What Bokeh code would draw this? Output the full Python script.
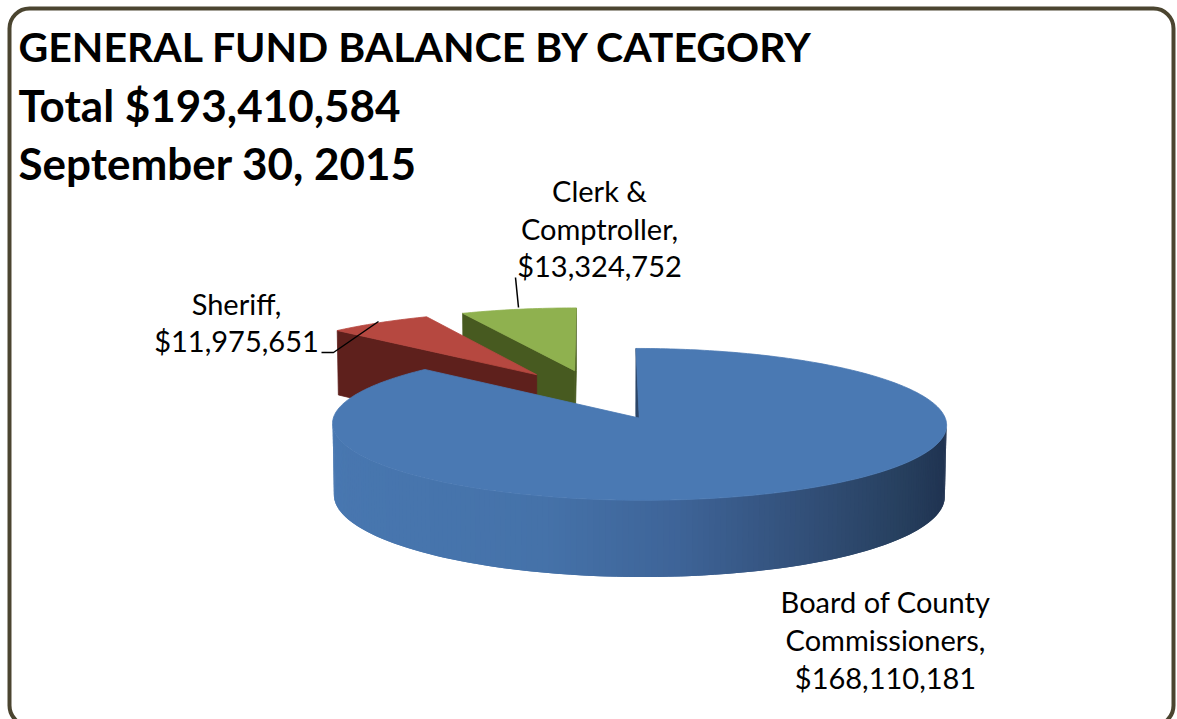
import numpy as np
from bokeh.plotting import figure
from bokeh.models import Range1d, BoxAnnotation
from bokeh.core.properties import value
from bokeh.embed import file_html
from bokeh.resources import INLINE

# ---------------- data ----------------
categories = ["Board of County Commissioners", "Sheriff", "Clerk & Comptroller"]
amounts = [168110181, 11975651, 13324752]
label_lines = [["Board of County", "Commissioners,", "$168,110,181"],
               ["Sheriff,", "$11,975,651"],
               ["Clerk &", "Comptroller,", "$13,324,752"]]
title_lines = ["GENERAL FUND BALANCE BY CATEGORY", "Total  $193,410,584", "September 30, 2015"]
top_colors = ["#4a79b3", "#b64840", "#8fb14f"]
face_colors = ["#2b4568", "#5e201c", "#475a20"]

# ---------------- figure (coordinates = page pixels, y downward) ----------------
W, H = 1177, 719
p = figure(width=W, height=H, output_backend="svg", toolbar_location=None,
           x_range=Range1d(0, W), y_range=Range1d(H, 0), min_border=0,
           x_axis_location=None, y_axis_location=None)
p.grid.visible = False
p.outline_line_color = None
p.background_fill_color = "white"

# ---------------- 3D exploded pie geometry ----------------
cx, cy = 596.0, 394.0     # projected centre
R = 298.0                 # radius in px
sa = 0.24                 # sin of elevation
ca = np.sqrt(1 - sa ** 2)
T = 0.24                  # thickness (radius units)
D = 12.0                  # camera distance (radius units)
E = 0.35                  # explosion

def proj(u, w, h):
    Yv = w * sa + h * ca
    Zc = w * ca - h * sa
    s = D / (D + Zc)
    return cx + R * u * s, cy - R * Yv * s

cam = np.array([0.0, -D * ca, D * sa])

def visible(normal, point):
    return np.dot(normal, cam - point) > 0

def hexmix(c1, c2, t):
    a = np.array([int(c1[i:i + 2], 16) for i in (1, 3, 5)], float)
    b = np.array([int(c2[i:i + 2], 16) for i in (1, 3, 5)], float)
    m = a + (b - a) * t
    return "#%02x%02x%02x" % tuple(int(round(v)) for v in m)

def side_color(i, u):
    if i == 0:
        stops = [(-1.0, "#4877b0"), (-0.3, "#4572a9"), (0.1, "#3e6498"),
                 (0.5, "#324f78"), (0.8, "#27405f"), (1.0, "#1f3250")]
    elif i == 1:
        stops = [(-1.0, "#7a2a25"), (1.0, "#4a1815")]
    else:
        stops = [(-1.0, "#5a7029"), (1.0, "#3a4a18")]
    for (u0, c0), (u1, c1) in zip(stops[:-1], stops[1:]):
        if u <= u1:
            return hexmix(c0, c1, (u - u0) / (u1 - u0))
    return stops[-1][1]

total = sum(amounts)
fracs = [a / total for a in amounts]
starts = np.concatenate([[0.0], np.cumsum(fracs)[:-1]]) * 2 * np.pi
ends = np.cumsum(fracs) * 2 * np.pi

slices = []
for i in range(len(amounts)):
    a0, a1 = starts[i], ends[i]
    m = (a0 + a1) / 2
    ex, ew = E * np.sin(m), E * np.cos(m)
    slices.append((ew, i, a0, a1, ex))
slices.sort(key=lambda s: -s[0])   # farthest first

xs, ys, cols, lws = [], [], [], []

def add(poly3, col, lw=0.8):
    pts = [proj(*pt) for pt in poly3]
    xs.append([q[0] for q in pts])
    ys.append([q[1] for q in pts])
    cols.append(col)
    lws.append(lw)

def rim(ex, ew, f, h):
    return (ex + np.sin(f), ew + np.cos(f), h)

for ew, i, a0, a1, ex in slices:
    apex_t = (ex, ew, 0.0)
    apex_b = (ex, ew, -T)
    n = max(8, int((a1 - a0) / (2 * np.pi) * 360))
    phis = np.linspace(a0, a1, n + 1)
    # outer side strips (overlapping, no outline to avoid seams)
    vis = []
    for k in range(n):
        fm = (phis[k] + phis[k + 1]) / 2
        normal = np.array([np.sin(fm), np.cos(fm), 0.0])
        pt = np.array([ex + np.sin(fm), ew + np.cos(fm), -T / 2])
        vis.append(visible(normal, pt))
    for k in range(n):
        if vis[k]:
            f0 = phis[k]
            k1 = min(k + 2, n) if (k + 1 < n and vis[k + 1]) else k + 1
            f1 = phis[k1]
            fm = (phis[k] + phis[k + 1]) / 2
            quad = [rim(ex, ew, f0, 0.0), rim(ex, ew, f1, 0.0),
                    rim(ex, ew, f1, -T), rim(ex, ew, f0, -T)]
            add(quad, side_color(i, np.sin(fm)), 0)
    # radial faces
    for ang, sign in ((a0, -1), (a1, 1)):
        normal = sign * np.array([np.cos(ang), -np.sin(ang), 0.0])
        pt = np.array([ex + 0.5 * np.sin(ang), ew + 0.5 * np.cos(ang), -T / 2])
        if visible(normal, pt):
            quad = [apex_t, rim(ex, ew, ang, 0.0), rim(ex, ew, ang, -T), apex_b]
            add(quad, face_colors[i])
    # top face
    top = [apex_t] + [rim(ex, ew, f, 0.0) for f in phis]
    add(top, top_colors[i])

p.patches(xs, ys, fill_color=cols, line_color=cols, line_width=lws)

# ---------------- leader lines ----------------
p.line([321, 333, 378], [352, 352, 321], line_color="black", line_width=1.5)
p.line([515, 518], [277, 307], line_color="black", line_width=1.5)

# ---------------- labels ----------------
lab_font = value("Lato")
label_pos = [(885, [601, 639, 677]), (236, [303, 340]), (599, [190, 228, 265])]
for lines, (lx, lys) in zip(label_lines, label_pos):
    p.text(x=[lx] * len(lines), y=lys, text=lines, text_align="center",
           text_baseline="alphabetic", text_font=lab_font, text_font_size="29px",
           text_color="black")

# ---------------- title ----------------
p.text(x=[18], y=[46], text=title_lines[:1], text_align="left",
       text_baseline="alphabetic", text_font=value("Lato"), text_font_size="41px",
       text_font_style="bold", text_color="black")
p.text(x=[18, 18], y=[104, 162], text=title_lines[1:], text_align="left",
       text_baseline="alphabetic", text_font=value("Lato"), text_font_size="44px",
       text_font_style="bold", text_color="black")

# ---------------- rounded frame ----------------
p.add_layout(BoxAnnotation(left=9, right=1173, top=8, bottom=725, fill_alpha=0,
                           line_color="#4b4530", line_alpha=1.0, line_width=4,
                           border_radius=20))

open("out.html", "w").write(file_html(p, INLINE))
